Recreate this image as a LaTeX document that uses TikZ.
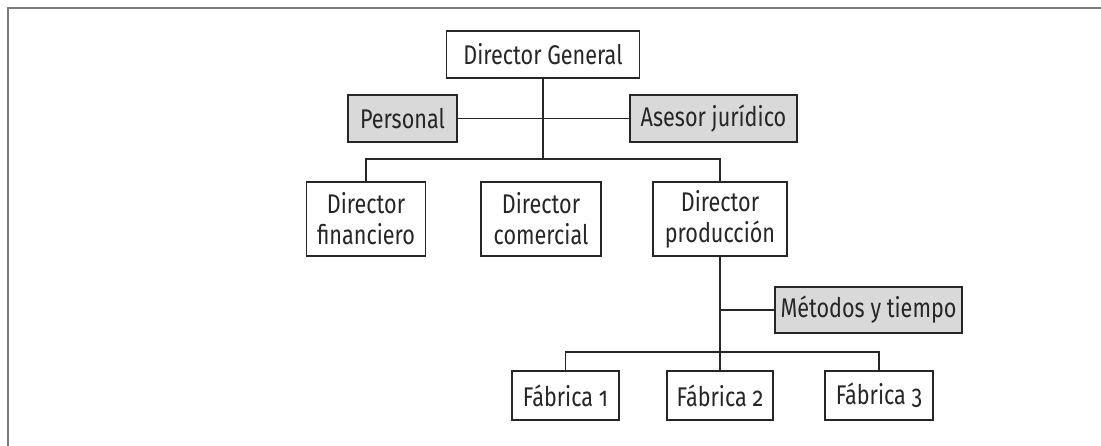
\documentclass[tikz,border=0pt]{standalone}
\usepackage{fontspec}
\setmainfont{Fira Sans}[FakeStretch=0.8, Numbers=OldStyle]
\usetikzlibrary{positioning}
\definecolor{boxfill}{HTML}{D9D9D9}
\definecolor{ink}{HTML}{262626}
\definecolor{framegray}{HTML}{7A7A7A}
\begin{document}
\begin{tikzpicture}[x=1pt,y=-1pt,
  unit/.style={draw=ink, line width=1.9pt, fill=white, text=ink, inner sep=0pt,
    align=center, font=\fontsize{27}{31}\selectfont},
  staff/.style={unit, fill=boxfill},
  link/.style={draw=ink, line width=1.8pt}]
\useasboundingbox (0,0) rectangle (1101,446);
% page frame
\draw[framegray, line width=2pt] (8,446) -- (8,8) -- (1101,8);

% top level
\node[unit, minimum width=193pt, minimum height=47pt] (dg) at (543,54.5) {Director General};
\node[staff, minimum width=109pt, minimum height=47pt] (pers) at (402.5,118.5) {Personal};
\node[staff, minimum width=167pt, minimum height=47pt] (ases) at (713.5,118.5) {Asesor jurídico};

% directors
\node[unit, minimum width=119pt, minimum height=74pt] (dfin) at (366,219) {Director\\financiero};
\node[unit, minimum width=120pt, minimum height=74pt] (dcom) at (541,219) {Director\\comercial};
\node[unit, minimum width=134pt, minimum height=74pt] (dprod) at (720,219) {Director\\producción};

% production branch
\node[staff, minimum width=187pt, minimum height=46pt] (met) at (868.5,310) {Métodos y tiempo};
\node[unit, minimum width=107pt, minimum height=49pt] (f1) at (565.5,395.5) {Fábrica 1};
\node[unit, minimum width=106pt, minimum height=49pt] (f2) at (720,395.5) {Fábrica 2};
\node[unit, minimum width=108pt, minimum height=49pt] (f3) at (879,395.5) {Fábrica 3};

\coordinate (busA) at (0,159);
\coordinate (busB) at (0,352);

% connectors
\draw[link] (dg.south) -- (dg.south |- busA);
\draw[link] (pers.east) -- (ases.west);
\draw[link] (dfin.north) |- (dprod.north |- busA) -- (dprod.north);
\draw[link] (dprod.south) -- (f2.north);
\draw[link] (met.west) -- (met.west -| dprod.south);
\draw[link] (f1.north) |- (f3.north |- busB) -- (f3.north);
\end{tikzpicture}
\end{document}
